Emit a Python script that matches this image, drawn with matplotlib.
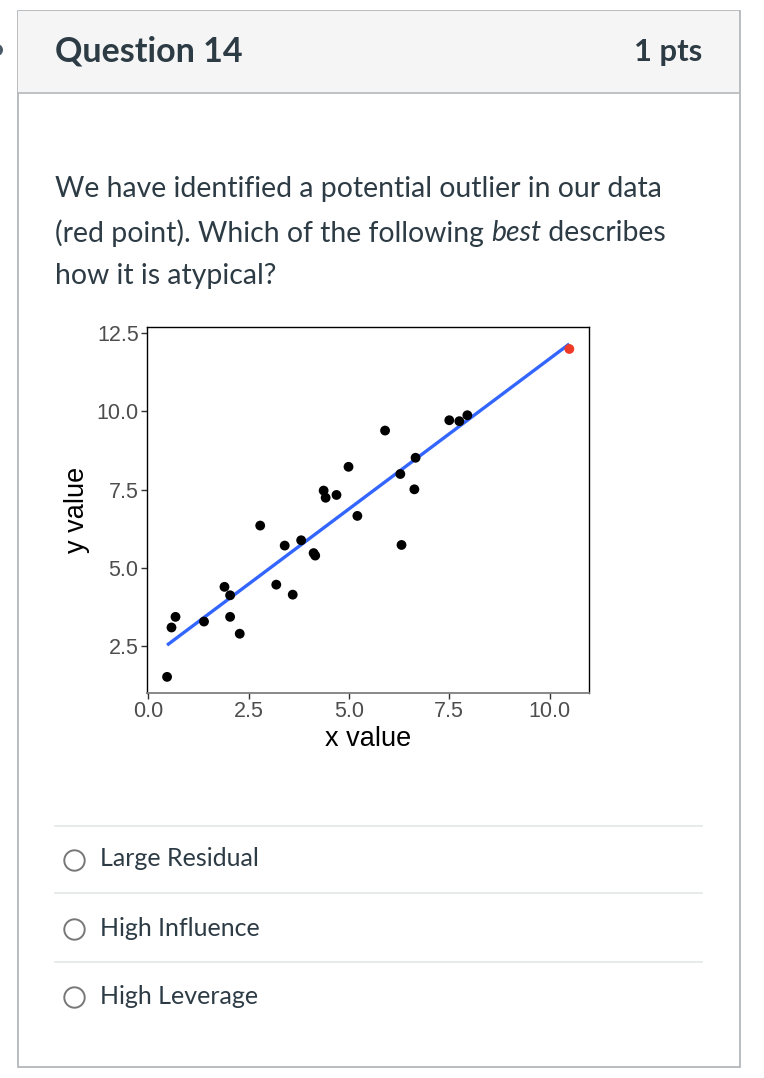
import numpy as np
import matplotlib
matplotlib.use("Agg")
import matplotlib.pyplot as plt
from matplotlib.patches import Rectangle, Circle

# ---- data ----
x_vals = [0.47, 0.58, 0.68, 1.39, 1.90, 2.04, 2.04, 2.28, 2.79, 3.19, 3.40, 3.60,
          3.81, 4.12, 4.16, 4.37, 4.42, 4.69, 4.99, 5.21, 5.90, 6.28, 6.31, 6.63,
          6.66, 7.50, 7.75, 7.95]
y_vals = [1.51, 3.09, 3.43, 3.28, 4.39, 4.12, 3.43, 2.89, 6.35, 4.46, 5.71, 4.14,
          5.88, 5.47, 5.39, 7.47, 7.24, 7.33, 8.23, 6.66, 9.39, 8.00, 5.73, 7.51,
          8.52, 9.72, 9.69, 9.88]
outlier_x = [10.49]
outlier_y = [12.00]
x_ticks = [0.0, 2.5, 5.0, 7.5, 10.0]
y_ticks = [2.5, 5.0, 7.5, 10.0, 12.5]
tick_labels_x = ["0.0", "2.5", "5.0", "7.5", "10.0"]
tick_labels_y = ["2.5", "5.0", "7.5", "10.0", "12.5"]
options = ["Large Residual", "High Influence", "High Leverage"]

W, H = 764, 1078
fig = plt.figure(figsize=(W / 100, H / 100), dpi=100)
fig.patch.set_facecolor("white")

# overlay axes in pixel coordinates
ui = fig.add_axes([0, 0, 1, 1])
ui.set_xlim(0, W)
ui.set_ylim(H, 0)
ui.axis("off")

text_col = "#2D3B45"
# card
ui.add_patch(Rectangle((17.5, 10.5), 722, 1056, facecolor="white", edgecolor="#AEB2B5", lw=1.2))
ui.add_patch(Rectangle((18, 11), 721, 82, facecolor="#F5F5F5", edgecolor="none"))
ui.plot([18, 739], [93, 93], color="#B5B9BC", lw=1.2)
ui.add_patch(Circle((-3, 50), 6, facecolor="#4A5A66", edgecolor="none"))

ui.text(55, 52, "Question 14", fontsize=24.5, fontweight="bold", family="Lato",
        color=text_col, va="center", ha="left")
ui.text(702, 52, "1 pts", fontsize=22.3, fontweight="bold", family="Lato",
        color=text_col, va="center", ha="right")

fs_body = 20.4
ui.text(55, 189, "We have identified a potential outlier in our data", fontsize=fs_body,
        family="Lato", color=text_col, va="center", ha="left")
t1 = ui.text(55, 233, "(red point). Which of the following ", fontsize=fs_body,
             family="Lato", color=text_col, va="center", ha="left")
fig.canvas.draw()
r = fig.canvas.get_renderer()
bb = t1.get_window_extent(r)
t2 = ui.annotate("best", xy=(bb.x1, H - 233), xycoords="figure pixels", fontsize=fs_body,
                 family="Lato", style="italic", color=text_col, va="center", ha="left")
bb2 = t2.get_window_extent(r)
ui.annotate(" describes", xy=(bb2.x1, H - 233), xycoords="figure pixels", fontsize=fs_body,
            family="Lato", color=text_col, va="center", ha="left")
ui.text(55, 276, "how it is atypical?", fontsize=fs_body,
        family="Lato", color=text_col, va="center", ha="left")

# options
sep_y = [826, 893, 962]
opt_y = [859, 928, 996]
for sy in sep_y:
    ui.plot([55, 702], [sy, sy], color="#E3E6E8", lw=1.2)
for oy, lab in zip(opt_y, options):
    ui.add_patch(Circle((74.5, oy + 1.5), 10.2, facecolor="white", edgecolor="#777777", lw=1.4))
    ui.text(100, oy, lab, fontsize=18.0, family="Lato", color=text_col, va="center", ha="left")

# ---- scatter plot ----
left, right, top, bottom = 147, 589.4, 327.4, 692.5
ax = fig.add_axes([left / W, 1 - bottom / H, (right - left) / W, (bottom - top) / H])
ax.set_xlim(-0.03, 10.99)
ax.set_ylim(1.01, 12.69)

all_x = np.array(x_vals + outlier_x)
all_y = np.array(y_vals + outlier_y)
b, a = np.polyfit(all_x, all_y, 1)
xs = np.array([all_x.min(), all_x.max()])
ax.plot(xs, a + b * xs, color="#3366FF", lw=2.4, solid_capstyle="butt", zorder=2)
ax.scatter(x_vals, y_vals, s=50, color="black", edgecolors="none", zorder=3)
ax.scatter(outlier_x, outlier_y, s=50, color="#F03A28", edgecolors="none", zorder=4)

ax.set_xticks(x_ticks)
ax.set_xticklabels(tick_labels_x)
ax.set_yticks(y_ticks)
ax.set_yticklabels(tick_labels_y)
for lab in ax.get_xticklabels() + ax.get_yticklabels():
    lab.set_family("Liberation Sans")
    lab.set_fontsize(15.5)
    lab.set_color("#4D4D4D")
ax.tick_params(direction="out", length=4, width=1, color="#333333", pad=2)
for s in ["top", "right", "left"]:
    ax.spines[s].set_color("black")
    ax.spines[s].set_linewidth(1.0)
ax.spines["bottom"].set_color("#7F7F7F")
ax.spines["bottom"].set_linewidth(1.3)
ax.set_xlabel("x value", family="Liberation Sans", fontsize=19.5, color="black", labelpad=3)
ax.set_ylabel("y value", family="Liberation Sans", fontsize=19.5, color="black", labelpad=5)

fig.savefig("out.png", dpi=100)
